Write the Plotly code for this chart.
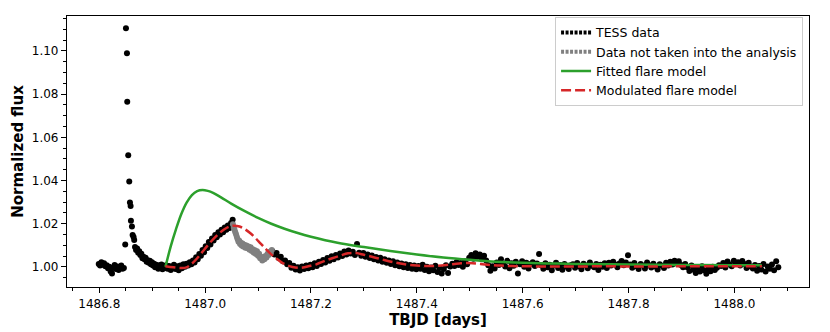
import plotly.graph_objects as go

# --- TESS light curve ---
# quiescent part before the big flare
pre_t = [1486.799, 1486.8015, 1486.804, 1486.8065, 1486.809, 1486.8115, 1486.814, 1486.8165, 1486.819, 1486.8215,
         1486.824, 1486.8265, 1486.829, 1486.8315, 1486.834, 1486.8365, 1486.839, 1486.8415, 1486.844, 1486.8465]
pre_f = [1.0014, 1.0006, 1.0022, 1.0010, 1.0017, 1.0003, 1.0008, 0.9994, 1.0001, 0.9979,
         0.9969, 0.9996, 1.0009, 0.9990, 1.0002, 0.9986, 0.9998, 1.0007, 0.9991, 0.9995]

# impulsive flare
spike_t = [1486.849, 1486.8504, 1486.8523, 1486.8528, 1486.8547, 1486.8566, 1486.8579, 1486.8592, 1486.8598,
           1486.8617, 1486.8630, 1486.8648, 1486.8660]
spike_f = [1.0104, 1.1105, 1.0989, 1.0765, 1.0517, 1.0395, 1.0298, 1.0282, 1.0214,
           1.0187, 1.0148, 1.0138, 1.0125]

# decay back to quiescence
decay_t = [1486.8675, 1486.8695, 1486.8715, 1486.8735, 1486.8755, 1486.8775, 1486.8795, 1486.8815, 1486.8835, 1486.8855,
           1486.8875, 1486.8895, 1486.8915, 1486.8935, 1486.8955, 1486.8975, 1486.8995, 1486.9015, 1486.9035, 1486.9055,
           1486.9075, 1486.9095, 1486.9115, 1486.9135, 1486.9155, 1486.9175, 1486.9195, 1486.9215, 1486.9235]
decay_f = [1.0092, 1.0078, 1.0085, 1.0066, 1.0072, 1.0055, 1.0061, 1.0040, 1.0047, 1.0035,
           1.0042, 1.0024, 1.0031, 1.0019, 1.0028, 1.0012, 1.0022, 1.0006, 1.0015, 0.9999,
           1.0010, 1.0003, 0.9992, 1.0008, 0.9997, 1.0011, 0.9989, 1.0004, 0.9995]

# rise of the second (modelled) flare
rise_t = [1486.926, 1486.929, 1486.932, 1486.935, 1486.938, 1486.941, 1486.944, 1486.947, 1486.950, 1486.953,
          1486.956, 1486.959, 1486.962, 1486.965, 1486.968, 1486.971, 1486.974, 1486.977, 1486.980, 1486.983,
          1486.986, 1486.989, 1486.992, 1486.995, 1486.998, 1487.001, 1487.004, 1487.007, 1487.010, 1487.013,
          1487.016, 1487.019, 1487.022, 1487.025, 1487.028, 1487.031, 1487.034, 1487.037, 1487.040, 1487.043,
          1487.046, 1487.049, 1487.052]
rise_f = [1.0008, 0.9992, 1.0004, 0.9986, 0.9998, 1.0010, 0.9990, 1.0003, 0.9985, 1.0006,
          0.9994, 1.0012, 1.0001, 1.0015, 1.0006, 1.0022, 1.0012, 1.0030, 1.0021, 1.0045,
          1.0036, 1.0060, 1.0052, 1.0078, 1.0068, 1.0096, 1.0088, 1.0115, 1.0104, 1.0132,
          1.0122, 1.0148, 1.0137, 1.0160, 1.0150, 1.0172, 1.0161, 1.0183, 1.0172, 1.0192,
          1.0180, 1.0203, 1.0219]

# after the excluded part
mid_t = [1487.127, 1487.131, 1487.135, 1487.139, 1487.143, 1487.147, 1487.151, 1487.155, 1487.159, 1487.163,
         1487.167, 1487.171, 1487.175, 1487.179, 1487.183, 1487.187, 1487.191, 1487.195, 1487.199, 1487.203,
         1487.207, 1487.211, 1487.215, 1487.219, 1487.223, 1487.227, 1487.231, 1487.235, 1487.239, 1487.243,
         1487.247, 1487.251, 1487.255, 1487.259, 1487.263, 1487.267, 1487.271, 1487.275, 1487.279, 1487.283,
         1487.287, 1487.291, 1487.295, 1487.299, 1487.303, 1487.307, 1487.311, 1487.315, 1487.319, 1487.323,
         1487.327, 1487.331, 1487.335, 1487.339, 1487.343, 1487.347, 1487.351, 1487.355, 1487.359, 1487.363,
         1487.367, 1487.371, 1487.375, 1487.379, 1487.383, 1487.387, 1487.391, 1487.395, 1487.399, 1487.403,
         1487.407, 1487.411, 1487.415, 1487.419, 1487.423, 1487.427, 1487.431, 1487.435, 1487.439, 1487.443,
         1487.447, 1487.451]
mid_f = [1.0072, 1.0058, 1.0064, 1.0041, 1.0047, 1.0026, 1.0030, 1.0012, 1.0018, 0.9996,
         1.0005, 0.9988, 0.9999, 0.9983, 1.0002, 0.9990, 1.0006, 0.9994, 1.0010, 0.9998,
         1.0017, 1.0004, 1.0024, 1.0013, 1.0032, 1.0021, 1.0041, 1.0028, 1.0049, 1.0036,
         1.0055, 1.0044, 1.0062, 1.0050, 1.0071, 1.0058, 1.0076, 1.0062, 1.0070, 1.0055,
         1.0106, 1.0066, 1.0052, 1.0064, 1.0047, 1.0058, 1.0041, 1.0053, 1.0036, 1.0046,
         1.0030, 1.0042, 1.0024, 1.0036, 1.0019, 1.0030, 1.0014, 1.0026, 1.0008, 1.0020,
         1.0003, 1.0016, 0.9998, 1.0012, 0.9995, 1.0009, 0.9992, 1.0006, 0.9989, 1.0004,
         0.9992, 1.0010, 0.9986, 1.0001, 0.9980, 0.9997, 0.9984, 1.0005, 0.9976, 0.9995,
         0.9969, 0.9990]

# quiescent tail
tail_t = [1487.455, 1487.459, 1487.463, 1487.467, 1487.471, 1487.475, 1487.479, 1487.483, 1487.487, 1487.491,
          1487.495, 1487.499, 1487.503, 1487.507, 1487.511, 1487.515, 1487.519, 1487.523, 1487.527, 1487.531,
          1487.535, 1487.539, 1487.543, 1487.547, 1487.551, 1487.555, 1487.559, 1487.563, 1487.567, 1487.571,
          1487.575, 1487.579, 1487.583, 1487.587, 1487.591, 1487.595, 1487.599, 1487.603, 1487.607, 1487.611,
          1487.615, 1487.619, 1487.623, 1487.627, 1487.631, 1487.635, 1487.639, 1487.643, 1487.647, 1487.651,
          1487.655, 1487.659, 1487.663, 1487.667, 1487.671, 1487.675, 1487.679, 1487.683, 1487.687, 1487.691,
          1487.695, 1487.699, 1487.703, 1487.707, 1487.711, 1487.715, 1487.719, 1487.723, 1487.727, 1487.731,
          1487.735, 1487.739, 1487.743, 1487.747, 1487.751, 1487.755, 1487.759, 1487.763, 1487.767, 1487.771,
          1487.775, 1487.779, 1487.783, 1487.787, 1487.791, 1487.795, 1487.799, 1487.803, 1487.807, 1487.811,
          1487.815, 1487.819, 1487.823, 1487.827, 1487.831, 1487.835, 1487.839, 1487.843, 1487.847, 1487.851,
          1487.855, 1487.859, 1487.863, 1487.867, 1487.871, 1487.875, 1487.879, 1487.883, 1487.887, 1487.891,
          1487.895, 1487.899, 1487.903, 1487.907, 1487.911, 1487.915, 1487.919, 1487.923, 1487.927, 1487.931,
          1487.935, 1487.939, 1487.943, 1487.947, 1487.951, 1487.955, 1487.959, 1487.963, 1487.967, 1487.971,
          1487.975, 1487.979, 1487.983, 1487.987, 1487.991, 1487.995, 1487.999, 1488.003, 1488.007, 1488.011,
          1488.015, 1488.019, 1488.023, 1488.027, 1488.031, 1488.035, 1488.039, 1488.043, 1488.047, 1488.051,
          1488.055, 1488.059, 1488.063, 1488.067, 1488.071, 1488.075, 1488.079, 1488.083]
tail_f = [1.0008, 0.9972, 1.0002, 1.0015, 1.0004, 1.0022, 1.0009, 1.0018, 1.0001, 1.0026,
          1.0012, 1.0042, 1.0055, 1.0038, 1.0063, 1.0047, 1.0058, 1.0036, 1.0052, 1.0030,
          1.0008, 0.9982, 1.0003, 0.9993, 1.0021, 1.0009, 1.0036, 1.0014, 1.0002, 1.0028,
          0.9994, 1.0017, 1.0005, 1.0024, 0.9969, 1.0012, 1.0026, 1.0001, 1.0019, 0.9993,
          1.0014, 1.0022, 1.0004, 1.0016, 1.0060, 1.0008, 0.9991, 1.0017, 0.9999, 1.0010,
          0.9984, 1.0006, 1.0019, 0.9995, 1.0009, 0.9987, 1.0013, 1.0001, 0.9990, 1.0008,
          1.0012, 0.9996, 1.0018, 1.0003, 0.9989, 1.0015, 1.0007, 0.9994, 1.0021, 1.0005,
          0.9998, 1.0014, 0.9986, 1.0010, 1.0001, 1.0017, 0.9995, 1.0019, 1.0006, 1.0024,
          1.0011, 0.9999, 1.0016, 1.0027, 1.0008, 1.0020, 1.0054, 1.0011, 0.9996, 1.0018,
          1.0003, 0.9990, 1.0014, 1.0006, 0.9993, 1.0021, 1.0008, 0.9997, 1.0015, 1.0002,
          0.9988, 1.0012, 1.0005, 0.9995, 1.0019, 1.0007, 1.0024, 1.0011, 1.0028, 1.0016,
          1.0026, 1.0009, 0.9998, 1.0014, 0.9998, 0.9981, 1.0006, 0.9987, 0.9972, 0.9995,
          0.9979, 1.0003, 0.9985, 0.9968, 0.9992, 0.9980, 1.0001, 0.9986, 0.9996, 1.0008,
          1.0004, 1.0018, 0.9997, 1.0025, 1.0011, 1.0003, 1.0029, 1.0016, 1.0022, 1.0006,
          1.0027, 1.0013, 0.9995, 1.0019, 1.0002, 0.9993, 1.0009, 0.9982, 1.0004, 0.9988,
          1.0014, 0.9979, 1.0002, 0.9991, 1.0011, 0.9985, 1.0026, 0.9998]

# points excluded from the fit
excl_t = [1487.0525, 1487.0540, 1487.0555, 1487.0570, 1487.0585, 1487.0600, 1487.0615, 1487.0630, 1487.0645, 1487.0660,
          1487.0675, 1487.0690, 1487.0705, 1487.0720, 1487.0740, 1487.0760, 1487.0780, 1487.0800, 1487.0820, 1487.0840,
          1487.0860, 1487.0880, 1487.0900, 1487.0920, 1487.0940, 1487.0960, 1487.0980, 1487.1000, 1487.1020, 1487.1040,
          1487.1060, 1487.1080, 1487.1100, 1487.1120, 1487.1140, 1487.1160, 1487.1180, 1487.1200, 1487.1220, 1487.1240,
          1487.1260]
excl_f = [1.0198, 1.0181, 1.0172, 1.0160, 1.0150, 1.0139, 1.0128, 1.0116, 1.0121, 1.0106,
          1.0112, 1.0099, 1.0108, 1.0094, 1.0103, 1.0089, 1.0099, 1.0086, 1.0095, 1.0080,
          1.0091, 1.0074, 1.0082, 1.0066, 1.0077, 1.0060, 1.0072, 1.0052, 1.0061, 1.0040,
          1.0047, 1.0030, 1.0042, 1.0036, 1.0050, 1.0044, 1.0061, 1.0055, 1.0070, 1.0063,
          1.0078]

# fitted flare model
fit_t = [1486.925, 1486.935, 1486.945, 1486.955, 1486.965, 1486.975, 1486.985, 1486.995, 1487.005, 1487.015,
         1487.030, 1487.050, 1487.075, 1487.100, 1487.125, 1487.150, 1487.175, 1487.200, 1487.250, 1487.300,
         1487.350, 1487.400, 1487.450, 1487.500, 1487.550, 1487.600, 1487.650, 1487.700, 1487.800, 1487.900,
         1488.000, 1488.052]
fit_f = [1.0000, 1.0095, 1.0175, 1.0245, 1.0298, 1.0333, 1.0351, 1.0356, 1.0352, 1.0343,
         1.0322, 1.0292, 1.0258, 1.0227, 1.0200, 1.0177, 1.0157, 1.0140, 1.0112, 1.0092,
         1.0074, 1.0058, 1.0044, 1.0033, 1.0024, 1.0019, 1.0016, 1.0014, 1.0011, 1.0009,
         1.0008, 1.0008]

# modulated flare model
mod_t = [1486.925, 1486.940, 1486.955, 1486.965, 1486.975, 1486.985, 1486.995, 1487.005, 1487.015, 1487.025,
         1487.035, 1487.045, 1487.055, 1487.065, 1487.075, 1487.085, 1487.095, 1487.105, 1487.115, 1487.125,
         1487.135, 1487.145, 1487.155, 1487.165, 1487.175, 1487.185, 1487.195, 1487.210, 1487.225, 1487.240,
         1487.255, 1487.270, 1487.285, 1487.300, 1487.320, 1487.340, 1487.360, 1487.380, 1487.400, 1487.420,
         1487.440, 1487.460, 1487.480, 1487.500, 1487.520, 1487.540, 1487.560, 1487.580, 1487.600, 1487.650,
         1487.700, 1487.750, 1487.800, 1487.850, 1487.900, 1487.950, 1488.000, 1488.052]
mod_f = [1.0003, 0.9998, 0.9995, 0.9998, 1.0015, 1.0040, 1.0070, 1.0100, 1.0128, 1.0152,
         1.0172, 1.0186, 1.0191, 1.0187, 1.0175, 1.0157, 1.0134, 1.0108, 1.0082, 1.0058,
         1.0038, 1.0020, 1.0008, 1.0000, 0.9996, 0.9997, 1.0003, 1.0012, 1.0027, 1.0040,
         1.0052, 1.0063, 1.0064, 1.0056, 1.0044, 1.0031, 1.0020, 1.0011, 1.0006, 1.0004,
         1.0005, 1.0010, 1.0016, 1.0018, 1.0014, 1.0009, 1.0006, 1.0004, 1.0003, 1.0002,
         1.0002, 1.0003, 1.0002, 1.0002, 1.0003, 1.0003, 1.0003, 1.0003]

GREEN = "#2ca02c"
RED = "#d62728"
FONT = "DejaVu Sans"

data_t = pre_t + spike_t + decay_t + rise_t + mid_t + tail_t
data_f = pre_f + spike_f + decay_f + rise_f + mid_f + tail_f

fig = go.Figure()

# data (legend entries drawn by dotted proxies below)
fig.add_trace(go.Scatter(x=data_t, y=data_f, mode="markers", showlegend=False,
                         marker=dict(color="black", size=6)))
fig.add_trace(go.Scatter(x=excl_t, y=excl_f, mode="markers", showlegend=False,
                         marker=dict(color="gray", size=6)))
fig.add_trace(go.Scatter(x=fit_t, y=fit_f, mode="lines", showlegend=False,
                         line=dict(color=GREEN, width=2.5, shape="spline")))
fig.add_trace(go.Scatter(x=mod_t, y=mod_f, mode="lines", showlegend=False,
                         line=dict(color=RED, width=2.5, dash="10px,4px", shape="spline")))

# legend proxies
fig.add_trace(go.Scatter(x=[None], y=[None], mode="lines", name="TESS data",
                         line=dict(color="black", width=4, dash="3px,1.5px")))
fig.add_trace(go.Scatter(x=[None], y=[None], mode="lines", name="Data not taken into the analysis",
                         line=dict(color="gray", width=4, dash="3px,1.5px")))
fig.add_trace(go.Scatter(x=[None], y=[None], mode="lines", name="Fitted flare model",
                         line=dict(color=GREEN, width=2.5)))
fig.add_trace(go.Scatter(x=[None], y=[None], mode="lines", name="Modulated flare model",
                         line=dict(color=RED, width=2.5, dash="10px,4px")))

axis_common = dict(showline=True, linecolor="black", linewidth=1.2, mirror=True,
                   ticks="outside", ticklen=5, tickwidth=1, tickcolor="black",
                   showgrid=False, zeroline=False, automargin=False,
                   tickfont=dict(family=FONT, size=12, color="black"))

fig.update_xaxes(range=[1486.739, 1488.141], tickmode="linear", tick0=1486.8, dtick=0.2, tickformat=".1f",
                 minor=dict(ticks="outside", ticklen=3, tickcolor="black", tick0=1486.8, dtick=0.05, showgrid=False),
                 title=dict(text="<b>TBJD [days]</b>", font=dict(family=FONT, size=15, color="black"), standoff=4),
                 **axis_common)
fig.update_yaxes(range=[0.9907, 1.1162], tickmode="linear", tick0=1.0, dtick=0.02, tickformat=".2f",
                 minor=dict(ticks="outside", ticklen=3, tickcolor="black", tick0=1.0, dtick=0.005, showgrid=False),
                 title=dict(text="<b>Normalized flux</b>", font=dict(family=FONT, size=15, color="black"), standoff=4),
                 **axis_common)

fig.update_layout(
    width=830, height=332,
    margin=dict(l=67, r=21, t=16, b=45),
    plot_bgcolor="white", paper_bgcolor="white",
    font=dict(family=FONT, size=12, color="black"),
    legend=dict(x=0.992, y=0.997, xanchor="right", yanchor="top",
                bgcolor="rgba(255,255,255,0.8)", bordercolor="#cccccc", borderwidth=1,
                font=dict(family=FONT, size=12.5, color="black"), itemwidth=30, tracegroupgap=0),
)

# the page's default body margin would shift the figure by 8px
fig.write_html("out.html", config={"displayModeBar": False},
               post_script="document.body.style.margin='0';")
